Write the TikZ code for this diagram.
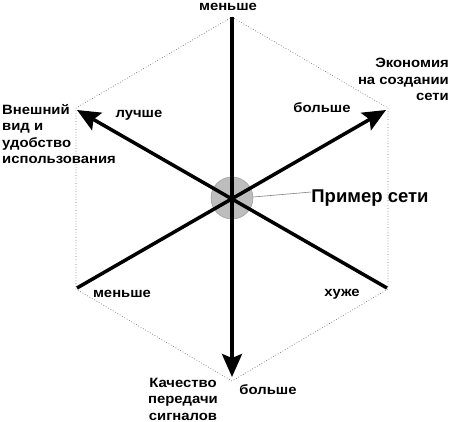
\documentclass[tikz,border=0pt]{standalone}
\usepackage{fontspec}
\setmainfont{Liberation Sans}
\newfontfamily\lblfont{Liberation Sans}[FakeStretch=1.1]
\usetikzlibrary{arrows.meta}
\begin{document}
\begin{tikzpicture}[x=1pt,y=-1pt,
  lbl/.style={font=\lblfont\bfseries\fontsize{13.5}{16.5}\selectfont, inner sep=0pt},
  big/.style={font=\bfseries\fontsize{18.5}{22}\selectfont, inner sep=0pt},
  axis/.style={line width=3.5pt},
  axisarrow/.style={axis, -{Stealth[length=23pt,width=20pt,inset=4pt]}},
  hex/.style={dotted, black!55, line width=0.7pt},
  hub/.style={circle, fill=black!26, draw=black!40, line width=0.5pt, minimum size=42pt, inner sep=0pt},
  pointer/.style={gray, line width=0.6pt}]
\useasboundingbox (0,0) rectangle (451,422);
% hexagon vertices
\coordinate (T) at (232,17);
\coordinate (UR) at (388,108);
\coordinate (LR) at (388,289);
\coordinate (B) at (232,381);
\coordinate (LL) at (76,289);
\coordinate (UL) at (76,108);
\draw[hex] (T) -- (UR) -- (LR) -- (B) -- (LL) -- (UL) -- cycle;
% hub
\node[hub] (C) at (232,198) {};
% arrow ends
\coordinate (ULtip) at (77,110);
\coordinate (URtip) at (386,110);
\coordinate (Btip) at (232,377);
\coordinate (LRs) at (387,288);
\coordinate (LLs) at (77,288);
\draw[axisarrow] (T) -- (Btip);
\draw[axisarrow] (LRs) -- (ULtip);
\draw[axisarrow] (LLs) -- (URtip);
% labels
\node[lbl, anchor=base] (topless) at (228,10.5) {меньше};
\node[lbl, anchor=base] (urmore) at (322,113) {больше};
\node[lbl, anchor=base] (better) at (139,118) {лучше};
\node[lbl, anchor=base] (llless) at (122,298) {меньше};
\node[lbl, anchor=base] (worse) at (342,297) {хуже};
\node[lbl, anchor=base] (bmore) at (268,395) {больше};
\node[lbl, anchor=north east, align=right] (econ) at (449,58) {Экономия\\на создании\\сети};
\node[lbl, anchor=north west, align=left] (look) at (2,104) {Внешний\\вид и\\удобство\\использования};
\node[lbl, anchor=north, align=center] (qual) at (183,378) {Качество\\передачи\\сигналов};
\node[big, anchor=base] (ex) at (370,203) {Пример сети};
\draw[pointer] (C.east) ++(0,-1) coordinate (ps) -- (ex.west |- 0,192);
\end{tikzpicture}
\end{document}
